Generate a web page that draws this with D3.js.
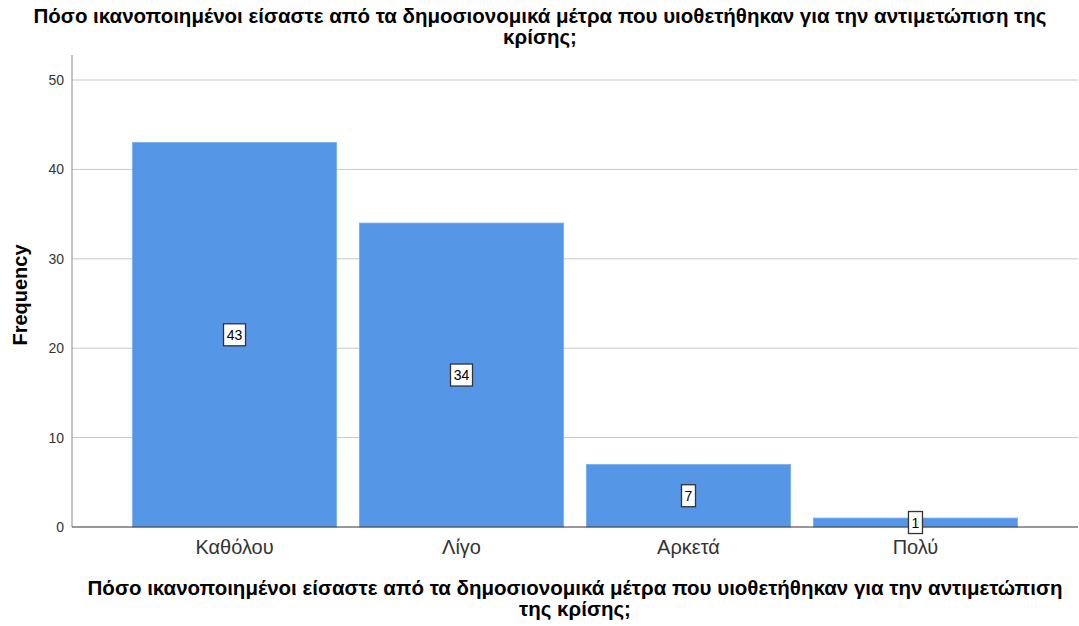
<!DOCTYPE html>
<html>
<head>
<meta charset="utf-8">
<script src="https://cdn.jsdelivr.net/npm/d3@7"></script>
<style>
body { margin: 0; background: #fff; }
svg { font-family: "Liberation Sans", Arial, sans-serif; }
</style>
</head>
<body>
<svg id="chart" width="1079" height="626"></svg>
<script>
var categories = ["Καθόλου", "Λίγο", "Αρκετά", "Πολύ"];
var frequency = [43, 34, 7, 1];
var y_ticks = [0, 10, 20, 30, 40, 50];
var title_lines = ["Πόσο ικανοποιημένοι είσαστε από τα δημοσιονομικά μέτρα που υιοθετήθηκαν για την αντιμετώπιση της", "κρίσης;"];
var xtitle_lines = ["Πόσο ικανοποιημένοι είσαστε από τα δημοσιονομικά μέτρα που υιοθετήθηκαν για την αντιμετώπιση", "της κρίσης;"];

var svg = d3.select("#chart");
var plot_left = 72, plot_right = 1078, plot_top = 55, plot_bottom = 527;

var x = d3.scaleBand().domain(categories).range([plot_left, plot_right])
    .paddingInner(0.1).paddingOuter(0.266);
var y = d3.scaleLinear().domain([0, 52.8]).range([plot_bottom, plot_top]);

// gridlines
svg.append("g").selectAll("line")
    .data(y_ticks.filter(function (d) { return d > 0; }))
    .enter().append("line")
    .attr("x1", plot_left).attr("x2", plot_right)
    .attr("y1", function (d) { return y(d); })
    .attr("y2", function (d) { return y(d); })
    .attr("stroke", "#c8c8c8").attr("stroke-width", 1);

// bars
svg.append("g").selectAll("rect")
    .data(frequency)
    .enter().append("rect")
    .attr("x", function (d, i) { return x(categories[i]); })
    .attr("y", function (d) { return y(d); })
    .attr("width", x.bandwidth())
    .attr("height", function (d) { return plot_bottom - y(d); })
    .attr("fill", "#5596e6")
    .attr("stroke", "#7aaeed")
    .attr("stroke-width", 0.8);

// y axis
var yAxis = d3.axisLeft(y).tickValues(y_ticks).tickSize(0).tickPadding(8);
var ga = svg.append("g").attr("transform", "translate(" + plot_left + ",0)").call(yAxis);
ga.select(".domain").attr("stroke", "#888").attr("d", "M0," + plot_top + "V" + plot_bottom);
ga.selectAll("text").attr("font-size", 14).attr("fill", "#333")
    .attr("font-family", "Liberation Sans, Arial, sans-serif");

// x axis
var xAxis = d3.axisBottom(x).tickSize(0).tickPadding(13);
var gx = svg.append("g").attr("transform", "translate(0," + plot_bottom + ")").call(xAxis);
gx.select(".domain").attr("stroke", "#333").attr("d", "M" + plot_left + ",0H" + plot_right);
gx.selectAll("text").attr("font-size", 20).attr("fill", "#333")
    .attr("font-family", "Liberation Sans, Arial, sans-serif");

// value labels
var lab = svg.append("g").selectAll("g")
    .data(frequency)
    .enter().append("g")
    .attr("transform", function (d, i) {
        return "translate(" + (x(categories[i]) + x.bandwidth() / 2) + "," + y(d / 2) + ")";
    });
lab.append("rect")
    .attr("x", function (d) { return -(String(d).length * 8 + 6) / 2; })
    .attr("y", -11)
    .attr("width", function (d) { return String(d).length * 8 + 6; })
    .attr("height", 22)
    .attr("fill", "#fff")
    .attr("stroke", "#333").attr("stroke-width", 1.3);
lab.append("text")
    .attr("text-anchor", "middle").attr("dy", "0.36em")
    .attr("font-size", 14).attr("fill", "#000")
    .text(function (d) { return d; });

// titles
svg.append("text")
    .attr("text-anchor", "middle").attr("font-size", 20.5).attr("font-weight", "bold")
    .selectAll("tspan").data(title_lines).enter().append("tspan")
    .attr("x", 540).attr("y", function (d, i) { return 23 + i * 21; })
    .text(function (d) { return d; });

svg.append("text")
    .attr("text-anchor", "middle").attr("font-size", 20.5).attr("font-weight", "bold")
    .selectAll("tspan").data(xtitle_lines).enter().append("tspan")
    .attr("x", 575).attr("y", function (d, i) { return 595 + i * 21; })
    .text(function (d) { return d; });

svg.append("text")
    .attr("transform", "translate(27,295) rotate(-90)")
    .attr("text-anchor", "middle").attr("font-size", 20).attr("font-weight", "bold")
    .text("Frequency");
</script>
</body>
</html>
